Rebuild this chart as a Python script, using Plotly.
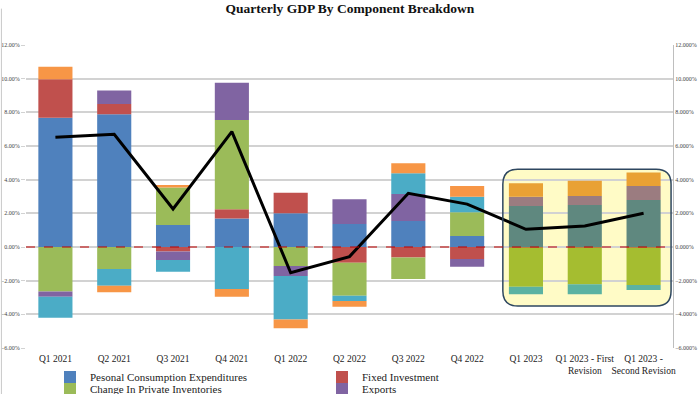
import plotly.graph_objects as go

categories = ["Q1 2021", "Q2 2021", "Q3 2021", "Q4 2021", "Q1 2022", "Q2 2022",
              "Q3 2022", "Q4 2022", "Q1 2023", "Q1 2023 - First<br>Revision",
              "Q1 2023 -<br>Second Revision"]

pce = [7.68, 7.88, 1.31, 1.70, 2.00, 1.37, 1.54, 0.65, 2.44, 2.50, 2.79]
fixed_investment = [2.28, 0.62, -0.26, 0.54, 1.23, -0.93, -0.63, -0.71, -0.05, -0.05, -0.05]
inventories = [-2.65, -1.31, 2.22, 5.31, -1.13, -1.96, -1.27, 1.41, -2.31, -2.17, -2.21]
exports = [-0.30, 0.79, -0.51, 2.21, -0.59, 1.46, 1.61, -0.46, 0.55, 0.53, 0.83]
imports = [-1.25, -0.99, -0.70, -2.50, -2.58, -0.32, 1.23, 0.93, -0.45, -0.59, -0.29]
government = [0.75, -0.39, 0.15, -0.45, -0.53, -0.34, 0.59, 0.63, 0.79, 0.91, 0.80]
gdp = [6.52, 6.70, 2.26, 6.85, -1.53, -0.57, 3.19, 2.55, 1.05, 1.25, 2.00]

n_highlight = 3
serif = "Liberation Serif"

series = [
    ("Pesonal Consumption Expenditures", pce, "#4F81BD", "#5F887F", "legend"),
    ("Fixed Investment", fixed_investment, "#C0504D", "#C46A45", "legend"),
    ("Change In Private Inventories", inventories, "#9BBB59", "#A5BD30", "legend2"),
    ("Exports", exports, "#8064A2", "#9B7C80", "legend2"),
    ("Imports", imports, "#4BACC6", "#5BB2A2", None),
    ("Government", government, "#F79646", "#E9A134", None),
]

fig = go.Figure()
for name, vals, col, tint, leg in series:
    colors = [col] * (len(categories) - n_highlight) + [tint] * n_highlight
    fig.add_trace(go.Bar(
        x=categories, y=vals, name=name, marker=dict(color=colors, line=dict(width=0)),
        showlegend=leg is not None, legend=leg or "legend", width=0.58,
    ))

fig.add_trace(go.Scatter(
    x=categories, y=gdp, mode="lines", line=dict(color="black", width=3),
    showlegend=False, name="GDP",
))
# invisible trace for right axis
fig.add_trace(go.Scatter(x=categories, y=gdp, yaxis="y2", mode="lines",
                         line=dict(width=0), opacity=0, showlegend=False, hoverinfo="skip"))

# plot area in px: x 25.5..673, y 45..348 ; range -6..12
px_w, px_h = 647.5, 303.0
r = 15
rx = r / px_w
ry = r * 18.0 / px_h
x0, x1 = 0.737, 0.997
y0, y1 = -3.51, 4.62
path = (f"M {x0+rx},{y1} L {x1-rx},{y1} Q {x1},{y1} {x1},{y1-ry} "
        f"L {x1},{y0+ry} Q {x1},{y0} {x1-rx},{y0} L {x0+rx},{y0} "
        f"Q {x0},{y0} {x0},{y0+ry} L {x0},{y1-ry} Q {x0},{y1} {x0+rx},{y1} Z")

fig.add_shape(type="path", path=path, xref="paper", yref="y",
              fillcolor="#FFFBC6", line=dict(width=0), layer="below")
fig.add_shape(type="path", path=path, xref="paper", yref="y",
              fillcolor="rgba(0,0,0,0)", line=dict(color="#2E4760", width=1.5), layer="above")
fig.add_shape(type="line", xref="paper", yref="y", x0=0, x1=1, y0=0, y1=0,
              line=dict(color="#C00000", width=1.2, dash="dash"), layer="above")
fig.add_shape(type="line", xref="paper", yref="paper", x0=-0.038, x1=-0.038, y0=-0.16, y1=1.12,
              line=dict(color="#C8C8C8", width=1))

legend_common = dict(orientation="h", xref="container", yref="container",
                     xanchor="left", yanchor="middle",
                     font=dict(family=serif, size=11, color="#222"), entrywidth=227,
                     bgcolor="rgba(0,0,0,0)", itemwidth=30, tracegroupgap=0)

fig.update_layout(
    width=700, height=394,
    margin=dict(l=25.5, r=27, t=45, b=46, autoexpand=False),
    paper_bgcolor="white", plot_bgcolor="white",
    barmode="relative", bargap=0.42,
    title=dict(text="<b>Quarterly GDP By Component Breakdown</b>", x=0.5, xanchor="center",
               y=0.99, yanchor="top", font=dict(family=serif, size=13.5, color="#111")),
    font=dict(family=serif, color="#222"),
    xaxis=dict(type="category", tickfont=dict(family=serif, size=9.5, color="#222"),
               showgrid=False, showline=False, ticks="", automargin=False, tickangle=0,
               ticklabelstandoff=3),
    yaxis=dict(range=[-6, 12], dtick=2, tickformat=".2f", ticksuffix="%",
               tickfont=dict(size=6, color="#444"), showgrid=True, gridcolor="#D2D2D2",
               gridwidth=1.5, zeroline=False, ticks="outside", ticklen=4, tickcolor="#D2D2D2",
               automargin=False, showline=False),
    yaxis2=dict(range=[-6, 12], dtick=2, tickformat=".3f", ticksuffix="%", overlaying="y",
                side="right", tickfont=dict(size=6, color="#444"), showgrid=False,
                zeroline=False, showline=True, linecolor="#BEBEBE", linewidth=1,
                ticks="", automargin=False),
    legend=dict(x=50 / 700, y=1 - 377 / 394, **legend_common),
    legend2=dict(x=50 / 700, y=1 - 389 / 394, **legend_common),
)

fig.write_html("out.html", config={"displayModeBar": False},
               post_script="document.body.style.margin='0';")
